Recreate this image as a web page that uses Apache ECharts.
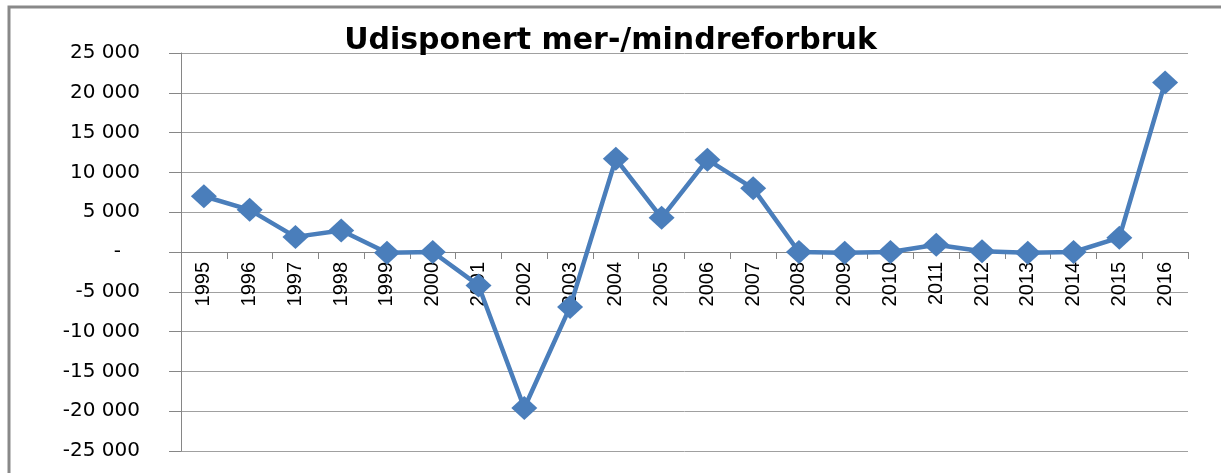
<!DOCTYPE html>
<html>
<head>
<meta charset="utf-8">
<script src="https://cdn.jsdelivr.net/npm/echarts@6/dist/echarts.min.js"></script>
<style>
html, body { margin: 0; padding: 0; background: #fff; }
#main { width: 1221px; height: 473px; }
</style>
</head>
<body>
<div id="main"></div>
<script>
// data
var years = ['1995', '1996', '1997', '1998', '1999', '2000', '2001', '2002', '2003', '2004', '2005',
    '2006', '2007', '2008', '2009', '2010', '2011', '2012', '2013', '2014', '2015', '2016'];
var values = [7000, 5300, 1900, 2700, -100, 0, -4200, -19600, -6900, 11700, 4300,
    11600, 8000, 0, -100, 0, 900, 100, -100, 0, 1800, 21300];

var myChart = echarts.init(document.getElementById('main'));

function fmt(v) {
    if (v === 0) return '-   ';
    var s = String(Math.abs(v)).replace(/\B(?=(\d{3})+(?!\d))/g, ' ');
    return (v < 0 ? '-' : '') + s;
}

var gridTop = 53, gridBottom = 22;
// plot spans 53..451, zero sits in the middle
var zeroOffset = -(473 - gridBottom - (gridTop + (473 - gridBottom)) / 2);

var option = {
    animation: false,
    title: {
        text: 'Udisponert mer-/mindreforbruk',
        left: 'center',
        top: 21,
        textStyle: {
            fontFamily: 'DejaVu Sans',
            fontSize: 30,
            fontWeight: 'bold',
            color: '#000'
        }
    },
    graphic: [{
        type: 'rect',
        shape: { x: 9, y: 7, width: 1400, height: 700 },
        style: { fill: 'none', stroke: '#898989', lineWidth: 3 },
        silent: true
    }],
    grid: { left: 181, right: 33, top: gridTop, bottom: gridBottom, outerBoundsMode: 'none' },
    xAxis: {
        type: 'category',
        data: years,
        boundaryGap: true,
        offset: zeroOffset,
        axisLine: { onZero: false, lineStyle: { color: '#868686', width: 1 } },
        axisTick: { show: true, length: 7, lineStyle: { color: '#868686' } },
        axisLabel: {
            rotate: 90,
            margin: 10,
            interval: 0,
            fontFamily: 'Liberation Sans',
            fontSize: 20,
            color: '#000'
        },
        splitLine: { show: false }
    },
    yAxis: {
        type: 'value',
        min: -25000,
        max: 25000,
        interval: 5000,
        axisLine: { show: true, lineStyle: { color: '#868686', width: 1 } },
        axisTick: { show: true, length: 12, lineStyle: { color: '#868686' } },
        axisLabel: {
            formatter: fmt,
            align: 'right',
            margin: 41,
            fontFamily: 'DejaVu Sans',
            fontSize: 20,
            color: '#000'
        },
        splitLine: { show: true, lineStyle: { color: '#a0a0a0', width: 1 } }
    },
    series: [{
        type: 'line',
        data: values,
        symbol: 'diamond',
        symbolSize: [26, 24],
        lineStyle: { color: '#4a7ebb', width: 4.5 },
        itemStyle: { color: '#4a7ebb' }
    }]
};

myChart.setOption(option);
</script>
</body>
</html>
